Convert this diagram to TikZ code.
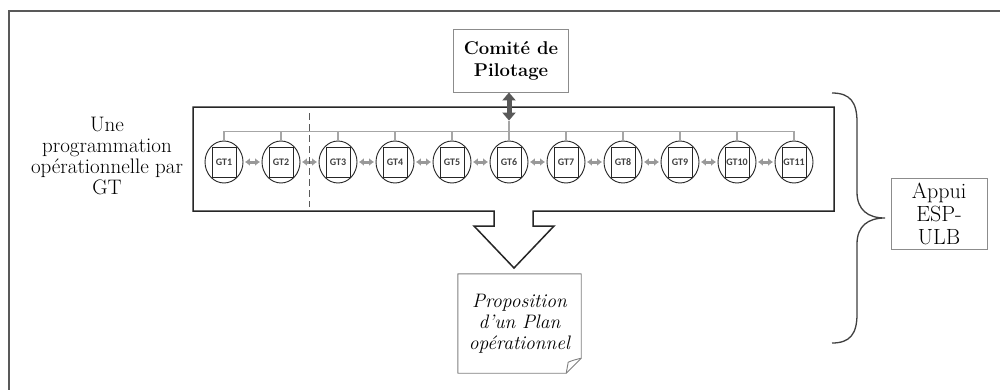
\documentclass[tikz,border=0pt]{standalone}
\usepackage{fontspec}
\newfontfamily\gtfont{Carlito}
\usetikzlibrary{arrows.meta,shapes.geometric,calc}
\begin{document}
\begin{tikzpicture}[x=1pt,y=-1pt,
  frame/.style={draw=black!65,line width=2pt},
  mainbox/.style={draw=black!85,line width=1.5pt,fill=white,line join=miter},
  lbl/.style={align=center,inner sep=0pt,text=black},
  gtc/.style={ellipse,draw=black!85,line width=0.9pt,minimum width=38pt,minimum height=42pt,inner sep=0pt},
  gts/.style={rectangle,draw=black!85,line width=0.9pt,minimum width=24pt,minimum height=30pt,inner sep=0pt,font=\gtfont\bfseries\fontsize{10}{11}\selectfont,text=black!75},
  tree/.style={draw=black!35,line width=1.1pt},
  link/.style={draw=black!40,line width=3pt,{Latex[length=5pt,width=8pt]}-{Latex[length=5pt,width=8pt]},shorten <=1.5pt,shorten >=1.5pt},
  bigarrow/.style={draw=black!65,line width=5pt,{Triangle[length=8pt,width=13pt]}-{Triangle[length=8pt,width=13pt]}},
  gbox/.style={draw=black!45,line width=0.9pt,align=center,inner sep=0pt},
  docline/.style={draw=black!50,line width=0.9pt,line join=round},
  brace/.style={draw=black!75,line width=1.3pt},
  divider/.style={draw=black!65,line width=1.3pt,dash pattern=on 7pt off 4pt}]

\useasboundingbox (0,0) rectangle (1000,389);
\fill[white] (0,0) rectangle (1000,389);
\draw[frame] (9,391) -- (9,11) -- (1002,11);

% main box with block arrow
\draw[mainbox] (193,107) -- (834,107) -- (834,211) -- (533,211) -- (533,226) -- (554,226) -- (514,268) -- (474,226) -- (494,226) -- (494,211) -- (193,211) -- cycle;

% GT nodes
\foreach \i in {1,...,11} {
  \pgfmathsetmacro\xx{224+57*(\i-1)}
  \node[gtc] (c\i) at (\xx,162) {};
  \node[gts] (g\i) at (\xx,162) {GT\i};
}

% tree
\draw[tree] (c1.north) -- ++(0,-9) -| (c11.north);
\foreach \i in {2,...,10} \draw[tree] (c\i.north) -- ++(0,-9);
\coordinate (pivot) at ($(c6.north)+(0,-20)$);
\draw[tree] (pivot) -- (c6.north);

% links
\foreach \i [evaluate=\i as \j using int(\i+1)] in {1,...,10}
  \draw[link] (c\i) -- (c\j);

% divider
\draw[divider] (309.5,113) -- (309.5,207);

% comite
\node[gbox,minimum width=115pt,minimum height=63pt,font=\bfseries\fontsize{18.5}{22}\selectfont] (comite) at (511,60.5) {Comité de\\Pilotage};
\draw[bigarrow] (comite.south -| pivot) -- (pivot);

% left text
\node[lbl,font=\fontsize{21}{21}\selectfont] (prog) at (107,156) {Une\\programmation\\opérationnelle par\\GT};

% document
\node[lbl,minimum width=123pt,minimum height=99pt,font=\itshape\fontsize{19.5}{21}\selectfont] (doc) at (519.5,323.5) {Proposition\\d'un Plan\\opérationnel};
\draw[docline] (doc.north west) -- (doc.north east) -- ($(doc.south east)+(0,-15)$) -- ($(doc.south east)+(-15,0)$) -- (doc.south west) -- cycle;
\draw[docline] ($(doc.south east)+(0,-15)$) .. controls ($(doc.south east)+(-8,-13)$) .. ($(doc.south east)+(-13,-11)$) -- ($(doc.south east)+(-15,0)$);

% appui
\node[gbox,minimum width=96pt,minimum height=71pt,font=\fontsize{22}{23}\selectfont] (appui) at (939,213.5) {Appui\\ESP-\\ULB};
\coordinate (bt) at (885,218);
\draw[brace] (832,93) .. controls (850,93) and (857,102) .. (857,122) -- (857,192) .. controls (857,210) and (868,218) .. (bt) .. controls (868,218) and (857,226) .. (857,244) -- (857,314) .. controls (857,334) and (850,343) .. (832,343);
\end{tikzpicture}
\end{document}
